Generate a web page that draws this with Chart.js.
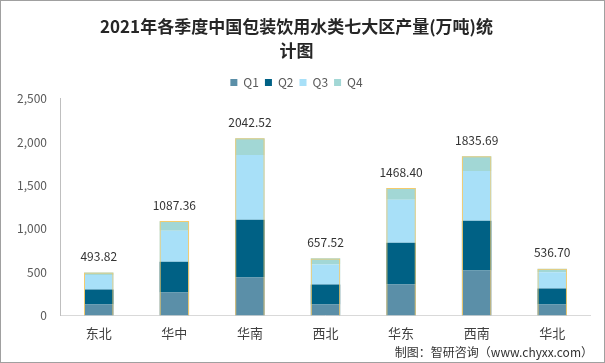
<!DOCTYPE html>
<html>
<head>
<meta charset="utf-8">
<script src="https://cdn.jsdelivr.net/npm/chart.js@4.4.1/dist/chart.umd.min.js"></script>
<style>
  html, body { margin: 0; padding: 0; background: #fff; }
  #wrap { width: 605px; height: 363px; position: relative; }
</style>
</head>
<body>
<div id="wrap"><canvas id="chart" width="605" height="363"></canvas></div>
<script>
const regions = ["东北", "华中", "华南", "西北", "华东", "西南", "华北"];
const q1 = [126, 264, 437, 126, 356, 517, 126];
const q2 = [173, 356, 666, 230, 483, 575, 184];
const q3 = [168, 357, 747, 230, 494, 574, 188];
const q4 = [27, 110, 192, 72, 135, 170, 39];
const totals = [493.82, 1087.36, 2042.52, 657.52, 1468.40, 1835.69, 536.70];

const CJK = "'Noto Sans CJK SC', 'Noto Sans', sans-serif";

// value labels above each stack
const totalLabels = {
  id: "totalLabels",
  afterDatasetsDraw(chart) {
    const meta = chart.getDatasetMeta(4);
    const ctx = chart.ctx;
    ctx.save();
    ctx.font = "12px " + CJK;
    ctx.fillStyle = "#333";
    ctx.textAlign = "center";
    ctx.textBaseline = "middle";
    meta.data.forEach((bar, i) => {
      ctx.fillText(totals[i].toFixed(2), bar.x, bar.y - 16);
    });
    ctx.restore();
  }
};

// source note + outer frame
const frame = {
  id: "frame",
  afterDraw(chart) {
    const ctx = chart.ctx;
    ctx.save();
    ctx.font = "12px " + CJK;
    ctx.fillStyle = "#333";
    ctx.textAlign = "right";
    ctx.textBaseline = "middle";
    ctx.fillText("制图：智研咨询（www.chyxx.com）", 593, 352);
    ctx.strokeStyle = "#a0a0a0";
    ctx.lineWidth = 1;
    ctx.strokeRect(0.5, 0.5, chart.width - 1, chart.height - 1);
    ctx.restore();
  }
};

// tighten the gap under the legend
const legendGap = {
  id: "legendGap",
  beforeLayout(chart) {
    if (chart.legend && !chart.legend._patched) {
      chart.legend._patched = true;
      chart.legend.afterFit = function () { this.height -= 7; };
    }
  }
};

const seg = (label, data, color) => ({
  label, data, backgroundColor: color, borderWidth: 0,
  stack: "q", grouped: false, barPercentage: 0.39, categoryPercentage: 1
});

new Chart(document.getElementById("chart"), {
  type: "bar",
  data: {
    labels: regions,
    datasets: [
      seg("Q1", q1, "#5B8FA8"),
      seg("Q2", q2, "#006185"),
      seg("Q3", q3, "#A8E0F8"),
      seg("Q4", q4, "#A2D7D5"),
      {
        label: "total", data: totals, stack: "t", grouped: false, order: -1,
        backgroundColor: "rgba(0,0,0,0)", borderColor: "#F5CB6B", borderWidth: 1,
        barPercentage: 0.39, categoryPercentage: 1
      }
    ]
  },
  options: {
    responsive: false,
    animation: false,
    layout: { padding: { left: 3, right: 15, top: 0, bottom: 12 } },
    plugins: {
      title: {
        display: true,
        text: ["2021年各季度中国包装饮用水类七大区产量(万吨)统", "计图"],
        color: "#262626",
        font: { family: CJK, size: 17, weight: "bold", lineHeight: 1.4 },
        padding: { top: 15, bottom: 8 }
      },
      legend: {
        position: "top",
        labels: {
          filter: item => item.datasetIndex < 4,
          boxWidth: 7, boxHeight: 7, padding: 6,
          color: "#595959",
          font: { family: CJK, size: 12 }
        }
      },
      tooltip: { enabled: false }
    },
    scales: {
      x: {
        stacked: true,
        grid: { display: false, drawTicks: false },
        border: { color: "#d9d9d9" },
        ticks: { color: "#404040", font: { family: CJK, size: 13 }, padding: 10 }
      },
      y: {
        stacked: true,
        min: 0, max: 2500,
        grid: { display: false, drawTicks: false },
        border: { display: true, color: "#bfbfbf" },
        ticks: { stepSize: 500, color: "#595959", font: { family: CJK, size: 12 }, padding: 14 }
      }
    }
  },
  plugins: [totalLabels, frame, legendGap]
});
</script>
</body>
</html>
